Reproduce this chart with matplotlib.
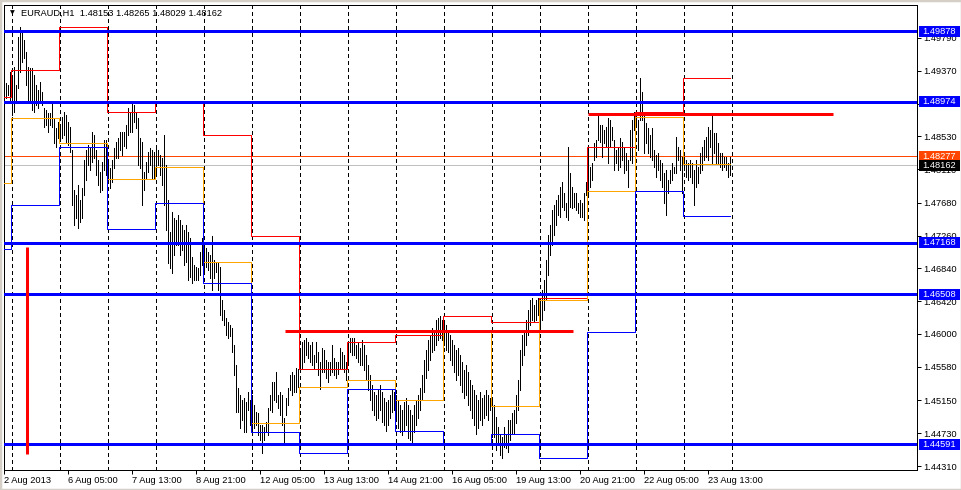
import matplotlib
matplotlib.use("Agg")
import matplotlib.pyplot as plt
import matplotlib.transforms as mtransforms
from matplotlib.patches import Rectangle
import numpy as np

plt.rcParams['lines.scale_dashes'] = False
plt.rcParams['font.family'] = ['Liberation Sans', 'DejaVu Sans']

# ---------------- data ----------------
symbol = "EURAUD,H1"
last_ohlc = [1.48153, 1.48265, 1.48029, 1.48162]
ask_price = 1.48277
bid_price = 1.48162

bars_per_day = [4] + [24] * 15   # 2 Aug (partial) then 15 trading days

# hourly highs / lows, one list per day
hi_d0 = [1.4923, 1.4921, 1.4919, 1.4935]
lo_d0 = [1.4903, 1.4902, 1.4906, 1.4897]
hi_d1 = [1.4928, 1.4942, 1.4919, 1.4980, 1.4993, 1.4987, 1.4976, 1.4961, 1.4942, 1.4940, 1.4940, 1.4932,
         1.4919, 1.4912, 1.4923, 1.4910, 1.4889, 1.4887, 1.4883, 1.4883, 1.4896, 1.4876, 1.4864, 1.4871]
lo_d1 = [1.4880, 1.4884, 1.4899, 1.4915, 1.4935, 1.4948, 1.4953, 1.4919, 1.4899, 1.4897, 1.4887, 1.4884,
         1.4893, 1.4889, 1.4897, 1.4893, 1.4865, 1.4868, 1.4859, 1.4868, 1.4865, 1.4844, 1.4839, 1.4851]
hi_d2 = [1.4865, 1.4878, 1.4884, 1.4880, 1.4871, 1.4865, 1.4836, 1.4784, 1.4778, 1.4791, 1.4772, 1.4787,
         1.4823, 1.4836, 1.4842, 1.4838, 1.4859, 1.4855, 1.4836, 1.4823, 1.4807, 1.4820, 1.4848, 1.4848]
lo_d2 = [1.4848, 1.4851, 1.4855, 1.4846, 1.4842, 1.4833, 1.4765, 1.4740, 1.4748, 1.4736, 1.4743, 1.4748,
         1.4778, 1.4797, 1.4816, 1.4810, 1.4820, 1.4825, 1.4804, 1.4791, 1.4782, 1.4784, 1.4810, 1.4804]
hi_d3 = [1.4820, 1.4812, 1.4823, 1.4838, 1.4846, 1.4851, 1.4859, 1.4859, 1.4859, 1.4868, 1.4889, 1.4884,
         1.4896, 1.4893, 1.4884, 1.4876, 1.4851, 1.4846, 1.4807, 1.4820, 1.4833, 1.4838, 1.4836, 1.4833]
lo_d3 = [1.4795, 1.4787, 1.4795, 1.4812, 1.4825, 1.4825, 1.4836, 1.4829, 1.4841, 1.4838, 1.4855, 1.4859,
         1.4859, 1.4871, 1.4864, 1.4816, 1.4812, 1.4765, 1.4784, 1.4800, 1.4807, 1.4816, 1.4800, 1.4800]
hi_d4 = [1.4838, 1.4836, 1.4829, 1.4825, 1.4855, 1.4816, 1.4772, 1.4731, 1.4756, 1.4748, 1.4746, 1.4752,
         1.4746, 1.4740, 1.4733, 1.4740, 1.4731, 1.4723, 1.4699, 1.4688, 1.4686, 1.4684, 1.4705, 1.4723]
lo_d4 = [1.4807, 1.4816, 1.4804, 1.4791, 1.4765, 1.4733, 1.4691, 1.4684, 1.4678, 1.4701, 1.4714, 1.4714,
         1.4701, 1.4708, 1.4688, 1.4692, 1.4669, 1.4673, 1.4665, 1.4669, 1.4669, 1.4669, 1.4676, 1.4688]
hi_d5 = [1.4714, 1.4710, 1.4705, 1.4701, 1.4725, 1.4695, 1.4691, 1.4691, 1.4686, 1.4644, 1.4631, 1.4620,
         1.4615, 1.4612, 1.4608, 1.4586, 1.4560, 1.4531, 1.4522, 1.4516, 1.4518, 1.4513, 1.4526, 1.4516]
lo_d5 = [1.4682, 1.4686, 1.4682, 1.4672, 1.4656, 1.4672, 1.4679, 1.4656, 1.4624, 1.4618, 1.4612, 1.4599,
         1.4595, 1.4597, 1.4577, 1.4548, 1.4500, 1.4500, 1.4480, 1.4490, 1.4475, 1.4475, 1.4503, 1.4484]
hi_d6 = [1.4522, 1.4509, 1.4500, 1.4499, 1.4484, 1.4484, 1.4481, 1.4487, 1.4505, 1.4522, 1.4538, 1.4538,
         1.4551, 1.4522, 1.4526, 1.4522, 1.4492, 1.4518, 1.4531, 1.4548, 1.4551, 1.4548, 1.4556, 1.4555]
lo_d6 = [1.4475, 1.4480, 1.4484, 1.4471, 1.4464, 1.4448, 1.4464, 1.4475, 1.4471, 1.4503, 1.4500, 1.4516,
         1.4513, 1.4505, 1.4496, 1.4484, 1.4460, 1.4496, 1.4509, 1.4528, 1.4522, 1.4526, 1.4526, 1.4532]
hi_d7 = [1.4577, 1.4590, 1.4592, 1.4595, 1.4590, 1.4586, 1.4590, 1.4573, 1.4590, 1.4577, 1.4564, 1.4582,
         1.4580, 1.4567, 1.4564, 1.4564, 1.4586, 1.4569, 1.4564, 1.4564, 1.4582, 1.4577, 1.4573, 1.4564]
lo_d7 = [1.4551, 1.4556, 1.4564, 1.4573, 1.4569, 1.4564, 1.4560, 1.4556, 1.4564, 1.4548, 1.4530, 1.4551,
         1.4551, 1.4544, 1.4538, 1.4548, 1.4551, 1.4548, 1.4544, 1.4549, 1.4556, 1.4556, 1.4551, 1.4541]
hi_d8 = [1.4586, 1.4595, 1.4595, 1.4595, 1.4586, 1.4590, 1.4582, 1.4592, 1.4586, 1.4573, 1.4560, 1.4548,
         1.4535, 1.4526, 1.4522, 1.4528, 1.4535, 1.4526, 1.4518, 1.4513, 1.4516, 1.4522, 1.4528, 1.4526]
lo_d8 = [1.4564, 1.4577, 1.4573, 1.4573, 1.4569, 1.4564, 1.4560, 1.4560, 1.4554, 1.4541, 1.4528, 1.4516,
         1.4503, 1.4496, 1.4490, 1.4492, 1.4503, 1.4487, 1.4484, 1.4476, 1.4484, 1.4492, 1.4500, 1.4503]
hi_d9 = [1.4522, 1.4516, 1.4509, 1.4503, 1.4513, 1.4518, 1.4509, 1.4503, 1.4496, 1.4509, 1.4516, 1.4522,
         1.4531, 1.4548, 1.4567, 1.4580, 1.4592, 1.4599, 1.4608, 1.4605, 1.4618, 1.4620, 1.4623, 1.4618]
lo_d9 = [1.4490, 1.4480, 1.4475, 1.4471, 1.4477, 1.4484, 1.4467, 1.4464, 1.4460, 1.4475, 1.4484, 1.4492,
         1.4503, 1.4516, 1.4526, 1.4544, 1.4554, 1.4567, 1.4577, 1.4580, 1.4586, 1.4592, 1.4595, 1.4592]
hi_d10 = [1.4615, 1.4612, 1.4605, 1.4599, 1.4592, 1.4586, 1.4580, 1.4582, 1.4573, 1.4564, 1.4554, 1.4560,
          1.4551, 1.4541, 1.4535, 1.4528, 1.4522, 1.4516, 1.4526, 1.4518, 1.4522, 1.4528, 1.4522, 1.4518]
lo_d10 = [1.4586, 1.4580, 1.4577, 1.4567, 1.4560, 1.4551, 1.4541, 1.4548, 1.4535, 1.4526, 1.4518, 1.4522,
          1.4509, 1.4503, 1.4492, 1.4484, 1.4472, 1.4480, 1.4490, 1.4484, 1.4492, 1.4496, 1.4490, 1.4503]
hi_d11 = [1.4516, 1.4509, 1.4494, 1.4481, 1.4471, 1.4468, 1.4481, 1.4471, 1.4490, 1.4490, 1.4499, 1.4503,
          1.4522, 1.4541, 1.4580, 1.4599, 1.4605, 1.4618, 1.4631, 1.4644, 1.4646, 1.4637, 1.4644, 1.4646]
lo_d11 = [1.4468, 1.4468, 1.4452, 1.4462, 1.4445, 1.4441, 1.4455, 1.4454, 1.4449, 1.4464, 1.4473, 1.4473,
          1.4486, 1.4503, 1.4528, 1.4560, 1.4573, 1.4586, 1.4599, 1.4612, 1.4618, 1.4615, 1.4618, 1.4624]
hi_d12 = [1.4644, 1.4656, 1.4669, 1.4695, 1.4727, 1.4740, 1.4759, 1.4765, 1.4772, 1.4778, 1.4788, 1.4795,
          1.4780, 1.4768, 1.4839, 1.4806, 1.4788, 1.4780, 1.4780, 1.4768, 1.4772, 1.4768, 1.4780, 1.4795]
lo_d12 = [1.4605, 1.4618, 1.4631, 1.4644, 1.4676, 1.4701, 1.4714, 1.4727, 1.4740, 1.4752, 1.4750, 1.4763,
          1.4759, 1.4750, 1.4746, 1.4763, 1.4761, 1.4763, 1.4759, 1.4755, 1.4750, 1.4750, 1.4746, 1.4778]
hi_d13 = [1.4839, 1.4814, 1.4819, 1.4844, 1.4848, 1.4880, 1.4868, 1.4868, 1.4861, 1.4865, 1.4876, 1.4874,
          1.4865, 1.4848, 1.4836, 1.4839, 1.4851, 1.4846, 1.4839, 1.4832, 1.4823, 1.4861, 1.4874, 1.4884]
lo_d13 = [1.4780, 1.4788, 1.4797, 1.4823, 1.4827, 1.4848, 1.4846, 1.4827, 1.4844, 1.4839, 1.4819, 1.4839,
          1.4848, 1.4810, 1.4819, 1.4810, 1.4814, 1.4823, 1.4806, 1.4810, 1.4788, 1.4823, 1.4819, 1.4861]
hi_d14 = [1.4883, 1.4874, 1.4928, 1.4910, 1.4880, 1.4870, 1.4864, 1.4855, 1.4864, 1.4836, 1.4829, 1.4832,
          1.4823, 1.4819, 1.4806, 1.4810, 1.4797, 1.4810, 1.4819, 1.4814, 1.4852, 1.4839, 1.4836, 1.4827]
lo_d14 = [1.4865, 1.4836, 1.4874, 1.4874, 1.4832, 1.4844, 1.4832, 1.4827, 1.4823, 1.4814, 1.4801, 1.4810,
          1.4797, 1.4788, 1.4768, 1.4752, 1.4780, 1.4793, 1.4797, 1.4806, 1.4806, 1.4823, 1.4810, 1.4780]
hi_d15 = [1.4827, 1.4823, 1.4819, 1.4823, 1.4819, 1.4810, 1.4823, 1.4814, 1.4832, 1.4839, 1.4848, 1.4852,
          1.4865, 1.4861, 1.4883, 1.4857, 1.4857, 1.4844, 1.4832, 1.4832, 1.4827, 1.4827, 1.4819, 1.48265]
lo_d15 = [1.4810, 1.4801, 1.4797, 1.4801, 1.4793, 1.4765, 1.4788, 1.4793, 1.4806, 1.4810, 1.4823, 1.4827,
          1.4823, 1.4839, 1.4819, 1.4832, 1.4819, 1.4819, 1.4814, 1.4810, 1.4814, 1.4810, 1.4801, 1.48029]

highs = (hi_d0 + hi_d1 + hi_d2 + hi_d3 + hi_d4 + hi_d5 + hi_d6 + hi_d7 + hi_d8 + hi_d9 + hi_d10 +
         hi_d11 + hi_d12 + hi_d13 + hi_d14 + hi_d15)
lows = (lo_d0 + lo_d1 + lo_d2 + lo_d3 + lo_d4 + lo_d5 + lo_d6 + lo_d7 + lo_d8 + lo_d9 + lo_d10 +
        lo_d11 + lo_d12 + lo_d13 + lo_d14 + lo_d15)

# previous-day levels shown for each day
prev_high = [1.4903, 1.4938, 1.4993, 1.4884, 1.4898, 1.4855, 1.4725, 1.4555,
             1.4590, 1.4599, 1.4623, 1.4615, 1.4646, 1.4839, 1.4884, 1.4928]
prev_close = [1.4793, 1.4877, 1.4845, 1.4798, 1.4814, 1.4692, 1.4486, 1.4532,
              1.4541, 1.4515, 1.4605, 1.4508, 1.4644, 1.4783, 1.4878, 1.4818]
prev_low = [1.4709, 1.4765, 1.4839, 1.4734, 1.4768, 1.4665, 1.4475, 1.4448,
            1.4530, 1.4476, 1.4459, 1.4472, 1.4441, 1.4603, 1.4783, 1.4751]

# manual levels (blue horizontal lines)
blue_levels = [1.49878, 1.48974, 1.47168, 1.46508, 1.44591]
# red segments: (price, bar start, bar end)
red_segments = [(1.48816, 291.75, 414.25), (1.46038, 140.25, 284.25)]
red_vertical = (11.25, 1.44463, 1.47113)

y_ticks = [1.49790, 1.49370, 1.48950, 1.48530, 1.48110, 1.47680, 1.47260, 1.46840,
           1.46420, 1.46000, 1.45580, 1.45150, 1.44730, 1.44310]
hidden_tick_labels = [1.48950]      # fully covered by the 1.48974 price box
x_tick_labels = ["2 Aug 2013", "6 Aug 05:00", "7 Aug 13:00", "8 Aug 21:00", "12 Aug 05:00",
                 "13 Aug 13:00", "14 Aug 21:00", "16 Aug 05:00", "19 Aug 13:00", "20 Aug 21:00",
                 "22 Aug 05:00", "23 Aug 13:00"]
x_tick_bars = [0, 32, 64, 96, 128, 160, 192, 224, 256, 288, 320, 352]

# ---------------- figure ----------------
W, H = 962, 490
fig = plt.figure(figsize=(W / 100, H / 100), dpi=100, facecolor='white')
ax = fig.add_axes([4 / W, 20 / H, 913 / W, 465 / H])
ymin, ymax = 1.44259, 1.50211
ax.set_xlim(-0.25, 456.25)
ax.set_ylim(ymin, ymax)
ax.set_facecolor('white')

FS = 6.7
PX = 0.72  # one pixel in points
n = len(highs)
idx = np.arange(n)

# period separators (day starts)
starts = np.concatenate([[0], np.cumsum(bars_per_day)[:-1]])
sep_x = list(starts[1:] - 0.25) + [n - 0.25]
ax.vlines(sep_x, ymin, ymax, colors='black', linewidth=PX,
          linestyles=[(0, (2.2, 2.2))], zorder=1, antialiased=False)

# bid / ask lines
ax.axhline(ask_price, color='#FF4500', lw=PX, zorder=2, snap=True)
ax.axhline(bid_price, color='#C0C0C0', lw=PX, zorder=2, snap=True)

# hourly bars
ax.vlines(idx, lows, highs, colors='black', linewidth=PX, zorder=3, antialiased=False)

# previous-day step lines (horizontal per day, vertical jump at day change)
for levels, color in [(prev_high, '#FF0000'), (prev_close, '#FFA500'), (prev_low, '#0000FF')]:
    xs, ys = [], []
    for s, nb, v in zip(starts, bars_per_day, levels):
        xs += [s - 0.5, s + nb - 0.5]
        ys += [v, v]
    xs[0] = 0
    xs[-1] = n - 1
    ax.plot(xs, ys, color=color, lw=PX, zorder=4, snap=True)

# manual objects
for lv in blue_levels:
    ax.axhline(lv, color='#0000FF', lw=3 * PX, zorder=5, snap=True)
for p, x0, x1 in red_segments:
    ax.hlines(p, x0, x1, color='#FF0000', lw=3 * PX, zorder=5, snap=True)
ax.vlines(red_vertical[0], red_vertical[1], red_vertical[2], color='#FF0000', lw=3 * PX, zorder=5,
          snap=True)

# axes styling
for sp in ax.spines.values():
    sp.set_color('black')
    sp.set_linewidth(PX)
ax.yaxis.tick_right()
ax.set_yticks(y_ticks)
ax.set_yticklabels(["" if v in hidden_tick_labels else f"{v:.5f}" for v in y_ticks])
ax.set_xticks(x_tick_bars)
ax.set_xticklabels(x_tick_labels, ha='left')
ax.tick_params(axis='y', which='both', direction='out', length=3, width=PX, pad=1.5,
               labelsize=FS, colors='black', left=False, right=True)
ax.tick_params(axis='x', which='both', direction='out', length=3, width=PX, pad=1.5,
               labelsize=FS, colors='black')

# price labels on right scale
trans = mtransforms.blended_transform_factory(fig.transFigure, ax.transData)
ppx = (ymax - ymin) / 465.0
def price_box(p, fc, tc='white'):
    fig.add_artist(Rectangle((919 / W, p - 5.5 * ppx), 41 / W, 11 * ppx, transform=trans,
                             facecolor=fc, edgecolor='none', zorder=10, clip_on=False))
    fig.text(922 / W, p, f"{p:.5f}", transform=trans, color=tc, fontsize=FS,
             va='center', ha='left', zorder=11)

for lv in blue_levels:
    price_box(lv, '#0000FF')
price_box(ask_price, '#FF4500')
price_box(bid_price, '#000000')

# header
fig.text(12 / W, 1 - 13 / H, "\u25BC", fontsize=4.5, family='DejaVu Sans', va='center', ha='center',
         color='black')
fig.text(21 / W, 1 - 13 / H, symbol + "  " + " ".join(f"{v:.5f}" for v in last_ohlc),
         fontsize=FS, va='center', ha='left', color='black')

# outer window border
fig.add_artist(Rectangle((0, 0), 1, 1, transform=fig.transFigure, fill=False,
                         edgecolor='#D4D0C8', lw=2.5, zorder=20))

fig.savefig("out.png", dpi=100, facecolor='white')
